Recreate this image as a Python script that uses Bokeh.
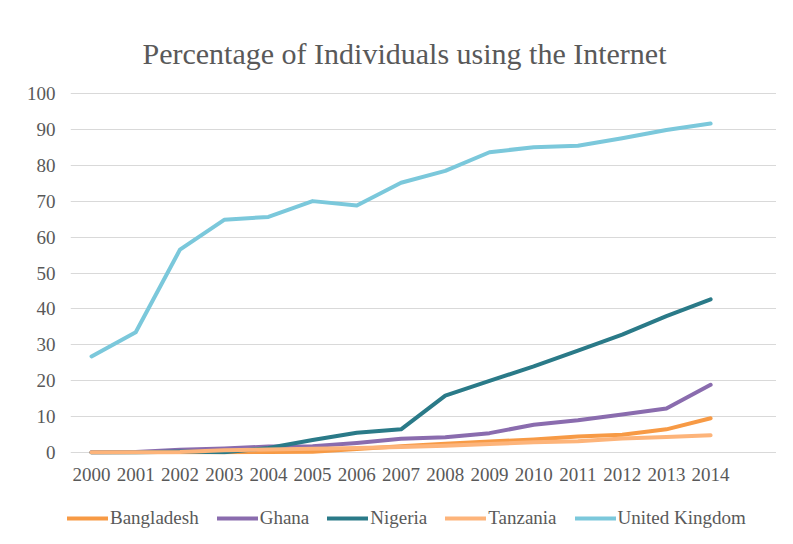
from bokeh.plotting import figure
from bokeh.layouts import column
from bokeh.models import Legend, LegendItem, FixedTicker, Range1d
from bokeh.embed import file_html
from bokeh.resources import INLINE

years = list(range(2000, 2015))
bangladesh = [0.07, 0.13, 0.14, 0.16, 0.2, 0.24, 1.0, 1.8, 2.5, 3.1, 3.7, 4.5, 5.0, 6.5, 9.6]
ghana = [0.15, 0.2, 0.83, 1.19, 1.72, 1.83, 2.72, 3.85, 4.27, 5.44, 7.8, 9.0, 10.6, 12.3, 18.9]
nigeria = [0.06, 0.09, 0.32, 0.1, 1.29, 3.55, 5.55, 6.5, 15.86, 20.0, 24.0, 28.43, 32.88, 38.0, 42.68]
tanzania = [0.12, 0.16, 0.22, 0.67, 0.88, 1.1, 1.3, 1.6, 1.9, 2.4, 2.9, 3.2, 3.95, 4.4, 4.86]
uk = [26.8, 33.5, 56.5, 64.8, 65.6, 70.0, 68.8, 75.1, 78.4, 83.6, 85.0, 85.4, 87.5, 89.8, 91.6]

names = ["Bangladesh", "Ghana", "Nigeria", "Tanzania", "United Kingdom"]
series = [bangladesh, ghana, nigeria, tanzania, uk]
colors = ["#F79A45", "#8A6CAE", "#2A7A88", "#FDB47A", "#7BC8DB"]

FONT = "Liberation Serif"
GREY = "#595959"

p = figure(width=776, height=500, output_backend="svg", toolbar_location=None,
           x_range=Range1d(1999.525, 2015.49), y_range=Range1d(-0.5, 100.5),
           min_border_left=70, min_border_right=0, min_border_top=91, min_border_bottom=46,
           title="Percentage of Individuals using the Internet")
p.outline_line_color = None
p.background_fill_color = "white"
p.border_fill_color = "white"

p.title.text_font = FONT
p.title.text_font_size = "30px"
p.title.text_font_style = "normal"
p.title.text_color = GREY
p.title.align = "left"
p.title.offset = 72
p.title.standoff = 43

for name, vals, c in zip(names, series, colors):
    p.line(years, vals, line_color=c, line_width=4, line_cap="round", line_join="round")

p.xgrid.grid_line_color = None
p.ygrid.grid_line_color = "#D9D9D9"
p.ygrid.grid_line_width = 1

for ax in (p.xaxis, p.yaxis):
    ax.axis_line_color = None
    ax.major_tick_line_color = None
    ax.minor_tick_line_color = None
    ax.major_label_text_font = FONT
    ax.major_label_text_font_size = "19px"
    ax.major_label_text_color = GREY

p.xaxis.ticker = FixedTicker(ticks=years)
p.yaxis.ticker = FixedTicker(ticks=list(range(0, 101, 10)))
p.yaxis.major_label_standoff = 9
p.xaxis.major_label_standoff = 7

# legend strip below the chart (its lines lie outside its visible range)
lg = figure(width=776, height=36, output_backend="svg", toolbar_location=None,
            x_range=Range1d(0, 1), y_range=Range1d(0, 1),
            min_border_left=0, min_border_right=0, min_border_top=0, min_border_bottom=0)
lg.frame_align = False
lg.axis.visible = False
lg.grid.visible = False
lg.outline_line_color = None
lg.border_fill_color = "white"
items = []
for name, vals, c in zip(names, series, colors):
    r = lg.line(years, vals, line_color=c, line_width=4, line_cap="round")
    items.append(LegendItem(label=name, renderers=[r]))
legend = Legend(items=items, orientation="horizontal", location=(67, 7),
                glyph_width=41, glyph_height=20, label_standoff=2, spacing=18,
                label_text_font=FONT, label_text_font_size="19px", label_text_color=GREY,
                border_line_color=None, background_fill_alpha=0, padding=0, margin=0)
lg.add_layout(legend, "center")

layout = column(p, lg, spacing=0)
open("out.html", "w").write(file_html(layout, INLINE))
